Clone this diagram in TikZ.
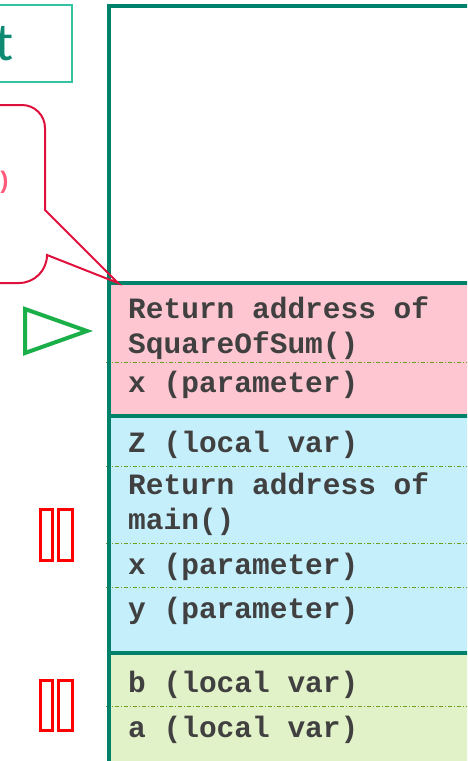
\documentclass[tikz,border=0pt]{standalone}
\usepackage{fontspec}
\setmonofont{Liberation Mono}
\newfontfamily\calib{Carlito}
\begin{document}
\begin{tikzpicture}[x=1pt,y=-1pt,
  stackline/.style={draw=stackteal,line width=4pt},
  sep/.style={draw=sepgreen,line width=0.9pt,dash pattern=on 4pt off 2pt on 1pt off 2pt},
  cell/.style={anchor=base west,inner sep=0pt,text=celltext,
    font=\ttfamily\bfseries\fontsize{29.5}{35}\selectfont},
  marker/.style={draw=red,line width=3pt},
]
\definecolor{stackteal}{HTML}{00816A}
\definecolor{boxteal}{HTML}{33C3A3}
\definecolor{titleteal}{HTML}{0E8A72}
\definecolor{calloutred}{HTML}{E0103C}
\definecolor{codepink}{HTML}{FF5A7C}
\definecolor{framepink}{HTML}{FEC6D1}
\definecolor{frameblue}{HTML}{C6EFFC}
\definecolor{framegreen}{HTML}{E2F2C8}
\definecolor{sepgreen}{HTML}{6E9E1E}
\definecolor{celltext}{HTML}{404040}
\definecolor{arrowgreen}{HTML}{1AAF48}
\useasboundingbox (0,0) rectangle (467,761);
\clip (0,0) rectangle (467,761);

% title box, cut by the left edge
\draw[boxteal,line width=2pt] (-40,5) rectangle (72,82);
\node[anchor=base east,inner sep=0pt,text=titleteal,font=\calib\fontsize{54}{54}\selectfont] (title) at (14,60) {t};

% stack frames
\fill[framepink]  (109,283) rectangle (480,416);
\fill[frameblue]  (109,416) rectangle (480,653);
\fill[framegreen] (109,653) rectangle (480,780);

% slot separators
\draw[sep] (106,362) -- (480,362);
\draw[sep] (106,466) -- (480,466);
\draw[sep] (106,543) -- (480,543);
\draw[sep] (106,587) -- (480,587);
\draw[sep] (106,706) -- (480,706);

% stack outline and frame borders
\draw[stackline] (480,5.5) -- (109,5.5) -- (109,780);
\draw[stackline] (109,283) -- (480,283);
\draw[stackline] (109,416) -- (480,416);
\draw[stackline] (109,653) -- (480,653);
\coordinate (frametop) at (118,283);

% slot contents
\node[cell] (ret1a) at (128,318) {Return address of};
\node[cell] (ret1b) at (128,353) {SquareOfSum()};
\node[cell] (px1)   at (128,392) {x (parameter)};
\node[cell] (z)     at (128,452) {Z (local var)};
\node[cell] (ret2a) at (128,494) {Return address of};
\node[cell] (ret2b) at (128,529) {main()};
\node[cell] (px2)   at (128,574) {x (parameter)};
\node[cell] (py)    at (128,618) {y (parameter)};
\node[cell] (lb)    at (128,692) {b (local var)};
\node[cell] (la)    at (128,737) {a (local var)};

% callout pointing at the top frame
\draw[calloutred,line width=2pt,line join=miter]
  (-60,105) -- (22,105) arc[start angle=-90,end angle=0,radius=23] -- (45,210)
  -- (frametop) -- (47,255) arc[start angle=0,end angle=90,radius=28] -- (-60,283);
\node[anchor=base east,inner sep=0pt,text=codepink,font=\ttfamily\bfseries\fontsize{24}{24}\selectfont] (code) at (11.5,188) {)};

% stack pointer marker
\draw[arrowgreen,line width=4pt,line join=miter] (25,309) -- (25,353) -- (87,331) -- cycle;

% frame markers
\draw[marker] (40.5,509.5) rectangle (52.5,560.5);
\draw[marker] (58.5,509.5) rectangle (72.5,560.5);
\draw[marker] (40.5,680.5) rectangle (52.5,730.5);
\draw[marker] (58.5,680.5) rectangle (72.5,730.5);
\end{tikzpicture}
\end{document}
